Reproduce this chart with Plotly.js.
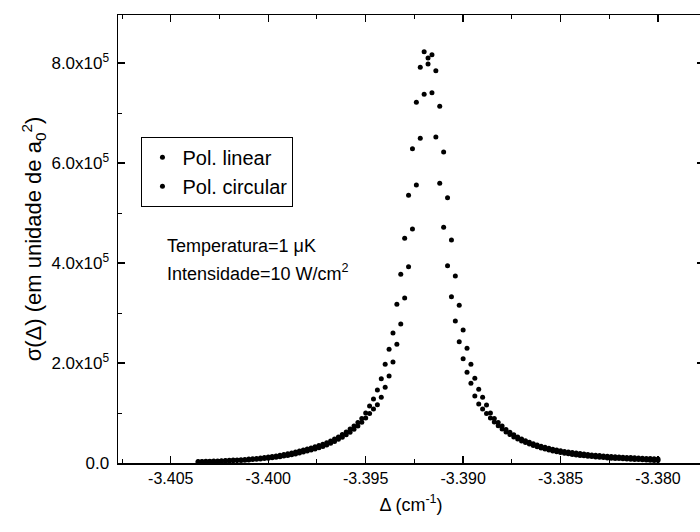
<!DOCTYPE html>
<html>
<head>
<meta charset="utf-8">
<script src="https://cdn.plot.ly/plotly-3.0.1.min.js"></script>
<style>html,body{margin:0;padding:0;background:#fff;overflow:hidden;}#chart{width:704px;height:532px;}</style>
</head>
<body>
<div id="chart"></div>
<script>
const delta = [
-3.4036,-3.4034,-3.4032,-3.4030,-3.4028,-3.4026,-3.4024,-3.4022,-3.4020,-3.4018,
-3.4016,-3.4014,-3.4012,-3.4010,-3.4008,-3.4006,-3.4004,-3.4002,-3.4000,-3.3998,
-3.3996,-3.3994,-3.3992,-3.3990,-3.3988,-3.3986,-3.3984,-3.3982,-3.3980,-3.3978,
-3.3976,-3.3974,-3.3972,-3.3970,-3.3968,-3.3966,-3.3964,-3.3962,-3.3960,-3.3958,
-3.3956,-3.3954,-3.3952,-3.3950,-3.3948,-3.3946,-3.3944,-3.3942,-3.3940,-3.3938,
-3.3936,-3.3934,-3.3932,-3.3930,-3.3928,-3.3926,-3.3924,-3.3922,-3.3920,-3.3918,
-3.3916,-3.3914,-3.3912,-3.3910,-3.3908,-3.3906,-3.3904,-3.3902,-3.3900,-3.3898,
-3.3896,-3.3894,-3.3892,-3.3890,-3.3888,-3.3886,-3.3884,-3.3882,-3.3880,-3.3878,
-3.3876,-3.3874,-3.3872,-3.3870,-3.3868,-3.3866,-3.3864,-3.3862,-3.3860,-3.3858,
-3.3856,-3.3854,-3.3852,-3.3850,-3.3848,-3.3846,-3.3844,-3.3842,-3.3840,-3.3838,
-3.3836,-3.3834,-3.3832,-3.3830,-3.3828,-3.3826,-3.3824,-3.3822,-3.3820,-3.3818,
-3.3816,-3.3814,-3.3812,-3.3810,-3.3808,-3.3806,-3.3804,-3.3802,-3.3800
];

const sigmaLinear = [
3000,3200,3400,3600,4000,4200,4600,5000,5400,5800,
6200,6600,7200,7800,8400,9200,10000,10800,11800,12800,
14000,15400,16800,18400,20000,22000,24000,26000,28000,30000,
32400,34800,37600,40600,44000,48000,52000,57000,62000,68000,
74000,81000,89000,100000,114000,128000,146000,168600,197400,227400,
260000,317400,377400,449400,535400,628600,721400,791400,822600,810000,
816600,784600,713400,622000,530600,446000,374000,315400,266000,229400,
197400,169400,147400,131400,116000,100000,89000,81000,74000,67000,
61400,56400,52000,48000,44400,41400,38600,36000,33600,31400,
29400,27600,26000,24600,23200,22000,20800,19800,18800,17800,
17000,16200,15400,14800,14200,13600,13000,12400,12000,11600,
11200,10800,10400,10000,9600,9200,8800,8400,8000
];

const sigmaCircular = [
2200,2400,2600,2800,3000,3200,3400,3800,4000,4400,
4800,5200,5600,6200,6800,7400,8000,8800,9600,10400,
11400,12600,13800,15200,16600,18200,20000,21800,23800,25800,
28000,30400,33000,36000,39400,43200,47400,51600,56400,61600,
67400,74000,81600,90000,99000,108000,116600,131400,151400,174000,
202000,237400,278000,330000,392600,468000,556000,649400,737400,798000,
740600,652000,559400,471400,394600,332600,284000,242600,208600,181400,
159400,134000,118000,108000,99000,90000,82000,74400,68000,62000,
56800,52000,48000,44200,40800,37800,35000,32400,30000,27800,
25800,24000,22400,21000,19600,18400,17200,16200,15200,14400,
13600,12800,12000,11400,10800,10200,9600,9200,8800,8400,
8000,7600,7200,6800,6400,6000,5600,5200,4800
];

const seriesNames = ['Pol. linear', 'Pol. circular'];
const xTickVals = [-3.405, -3.400, -3.395, -3.390, -3.385, -3.380];
const xTickText = ['-3.405', '-3.400', '-3.395', '-3.390', '-3.385', '-3.380'];
const yTickVals = [0, 200000, 400000, 600000, 800000];
const yTickText = ['0.0', '2.0x10<sup>5</sup>', '4.0x10<sup>5</sup>', '6.0x10<sup>5</sup>', '8.0x10<sup>5</sup>'];
const noteLines = ['Temperatura=1 \u03bcK', 'Intensidade=10 W/cm<sup>2</sup>'];

const FONT = '"Liberation Sans", Arial, sans-serif';

const traces = [
  {x: delta, y: sigmaLinear, name: seriesNames[0], type: 'scatter', mode: 'markers',
   marker: {color: '#000', size: 5}},
  {x: delta, y: sigmaCircular, name: seriesNames[1], type: 'scatter', mode: 'markers',
   marker: {color: '#000', size: 5}}
];

const axisCommon = {
  showline: true, linecolor: '#000', linewidth: 1.5, mirror: 'ticks',
  ticks: 'inside', ticklen: 7, tickwidth: 1.3, tickcolor: '#000',
  showgrid: false, zeroline: false
};

const layout = {
  width: 704, height: 532,
  margin: {l: 118, r: 0, t: 15, b: 69},
  paper_bgcolor: '#fff', plot_bgcolor: '#fff',
  font: {family: FONT, color: '#000'},
  showlegend: true,
  legend: {
    x: 0.04, y: 0.728, xanchor: 'left', yanchor: 'top',
    bordercolor: '#000', borderwidth: 1, bgcolor: 'rgba(0,0,0,0)',
    font: {family: FONT, size: 20, color: '#000'}
  },
  xaxis: Object.assign({}, axisCommon, {
    range: [-3.40771, -3.37764],
    tickfont: {family: FONT, size: 16, color: '#000'},
    tickmode: 'array', tickvals: xTickVals, ticktext: xTickText,
    minor: {dtick: 0.0025, tick0: -3.405, ticks: 'inside', ticklen: 4, tickcolor: '#000', tickwidth: 1},
    title: {text: '\u0394 (cm<sup>-1</sup>)', font: {family: FONT, size: 18, color: '#000'}, standoff: 12}
  }),
  yaxis: Object.assign({}, axisCommon, {
    range: [0, 896000],
    tickfont: {family: FONT, size: 17, color: '#000'},
    ticklabelstandoff: 4,
    tickmode: 'array', tickvals: yTickVals, ticktext: yTickText,
    minor: {dtick: 100000, tick0: 0, ticks: 'inside', ticklen: 4, tickcolor: '#000', tickwidth: 1},
    title: {text: '\u03c3(\u0394) (em unidade de a<sub>0</sub><sup>2</sup>)', font: {family: FONT, size: 22, color: '#000'}, standoff: 3}
  }),
  annotations: [
    {xref: 'paper', yref: 'paper', x: 0.08, y: 0.484, xanchor: 'left', yanchor: 'middle',
     text: noteLines[0], showarrow: false, font: {family: FONT, size: 18, color: '#000'}},
    {xref: 'paper', yref: 'paper', x: 0.08, y: 0.426, xanchor: 'left', yanchor: 'middle',
     text: noteLines[1], showarrow: false, font: {family: FONT, size: 18, color: '#000'}}
  ]
};

Plotly.newPlot('chart', traces, layout, {displayModeBar: false, staticPlot: true});
</script>
</body>
</html>
